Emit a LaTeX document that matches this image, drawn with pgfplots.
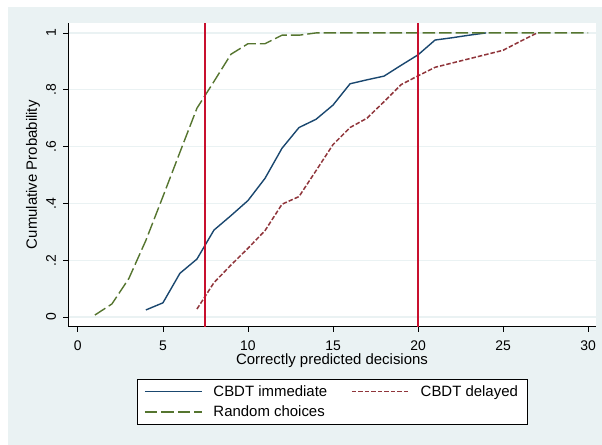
\documentclass[border=0pt]{standalone}
\usepackage{pgfplots}
\pgfplotsset{compat=1.18}
\usepackage{fontspec}
\setmainfont{Liberation Sans}

\definecolor{bggray}{HTML}{EAF2F3}
\definecolor{snavy}{HTML}{1A476F}
\definecolor{smaroon}{HTML}{90353B}
\definecolor{sgreen}{HTML}{55752F}
\definecolor{sred}{HTML}{C8102E}

\begin{document}
\begin{tikzpicture}
\fill[white] (0bp,0bp) rectangle (602bp,445bp);
\fill[bggray] (8bp,0bp) rectangle (602bp,438bp);
\begin{axis}[
   at={(68bp,118.3bp)}, anchor=south west,
   scale only axis,
   width=528bp, height=304bp,
   xmin=-0.58, xmax=30.46,
   ymin=-0.034, ymax=1.036,
   axis background/.style={fill=white},
   axis x line*=bottom, axis y line*=left,
   axis line style={black, line width=0.8bp, -},
   xtick={0,5,...,30},
   ytick={0,0.2,0.4,0.6,0.8,1},
   yticklabels={0,.2,.4,.6,.8,1},
   tick align=outside,
   major tick length=5bp,
   tick style={black, line width=0.8bp},
   ymajorgrids=true,
   grid style={bggray, line width=1.2bp},
   ticklabel style={font=\fontsize{14}{16}\selectfont},
   yticklabel style={anchor=center, xshift=-12bp, rotate=90},
   xticklabel shift=6bp,
   /pgf/number format/assume math mode=true,
   label style={font=\fontsize{15}{18}\selectfont},
   xlabel={Correctly predicted decisions},
   xlabel style={at={(axis description cs:0.5,-0.112)}, anchor=center},
   ylabel={Cumulative Probability},
   ylabel style={at={(axis description cs:-0.0663,0.5)}, anchor=center},
   legend columns=2,
   legend cell align=left,
   legend style={at={(0.5,-0.172)}, anchor=north, draw=black, fill=white,
      line width=0.8bp, font=\fontsize{15}{18}\selectfont,
      inner xsep=7bp, inner ysep=4bp, row sep=4bp,
      /tikz/every odd column/.append style={column sep=9bp},
      /tikz/every even column/.append style={column sep=22bp}},
   legend image code/.code={\draw[#1] (0bp,0bp) -- (57bp,0bp);},
]
\addplot[snavy, line width=1.4bp] coordinates {
 (4,0.025) (5,0.050) (6,0.154) (7,0.204) (8,0.306) (9,0.357) (10,0.410)
 (11,0.488) (12,0.594) (13,0.667) (14,0.696) (15,0.746) (16,0.821)
 (17,0.835) (18,0.848) (19,0.886) (20,0.923) (21,0.975) (22,0.983)
 (23,0.992) (24,1.0)
};
\addplot[smaroon, line width=1.5bp, dash pattern=on 4.5bp off 2bp] coordinates {
 (7,0.028) (8,0.121) (9,0.183) (10,0.242) (11,0.304) (12,0.397) (13,0.424)
 (14,0.515) (15,0.607) (16,0.667) (17,0.700) (18,0.758) (19,0.818)
 (20,0.849) (21,0.879) (22,0.894) (23,0.909) (24,0.924) (25,0.939)
 (26,0.970) (27,1.0)
};
\addplot[sgreen, line width=1.4bp, dash pattern=on 12.5bp off 4bp] coordinates {
 (1,0.007) (2,0.046) (3,0.136) (4,0.270) (5,0.424) (6,0.580) (7,0.735)
 (8,0.829) (9,0.925) (10,0.962) (11,0.962) (12,0.992) (13,0.992)
 (14,1.0) (30,1.0)
};
% reference lines at 7.5 and 20
\addplot[sred, line width=2bp, forget plot] coordinates {(7.5,-0.034) (7.5,1.036)};
\addplot[sred, line width=1.5bp, forget plot] coordinates {(20,-0.034) (20,1.036)};
\legend{CBDT immediate, CBDT delayed, Random choices}
\end{axis}
\end{tikzpicture}
\end{document}
